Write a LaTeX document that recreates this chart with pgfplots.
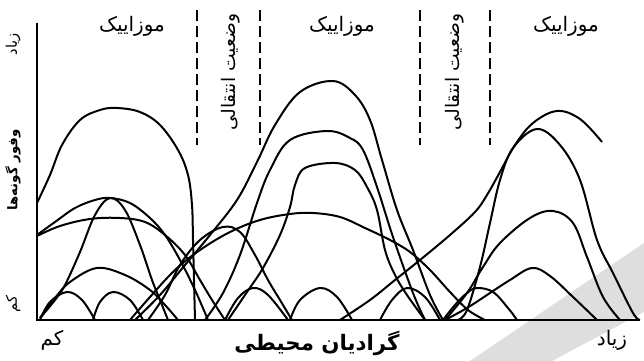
\documentclass[border=0pt]{standalone}
\usepackage{fontspec}
\usepackage{pgfplots}
\pgfplotsset{compat=1.18}
\TeXXeTstate=1
\newfontfamily\fa[Script=Arabic]{DejaVu Sans}
\pgfplotsset{sp/.style={black, solid, line width=1.5pt, smooth, tension=0.6, mark=none}}

\begin{document}
\begin{tikzpicture}
\begin{axis}[
    hide axis, scale only axis, clip=false,
    width=483pt, height=270.75pt,
    xmin=0, xmax=644, ymin=-41, ymax=320
]
% watermark band
\fill[black!13] (axis cs:470,-41) -- (axis cs:644,77) -- (axis cs:644,8) -- (axis cs:552,-41) -- cycle;

% axes
\draw[line width=1.5pt] (axis cs:37,297) -- (axis cs:37,0) -- (axis cs:640,0);

% dashed borders of the transition zones
\pgfplotsinvokeforeach{197,260,420,490}{
  \draw[line width=1.6pt, dash pattern=on 8pt off 4pt] (axis cs:#1,310) -- (axis cs:#1,175);
}

% left mosaic
\addplot[sp] coordinates {(37,117)(50,145)(62,175)(80,200)(100,210)(117,212)(140,208)(160,195)(178,170)(188,145)(192,115)(193,80)(194,40)(195,0)};
\addplot[sp] coordinates {(37,85)(55,98)(75,112)(95,120)(110,122)(130,117)(150,102)(165,85)(180,60)(195,30)(208,0)};
\addplot[sp] coordinates {(40,2)(55,20)(65,35)(80,68)(95,105)(110,122)(125,110)(140,75)(152,40)(160,20)(168,0)};
\addplot[sp] coordinates {(37,84)(60,94)(90,101)(120,102)(145,98)(165,85)(185,65)(200,40)(212,20)(225,0)};
\addplot[sp] coordinates {(40,2)(55,22)(70,38)(97,52)(125,45)(150,30)(165,15)(178,0)};
\addplot[sp] coordinates {(40,0)(50,18)(67,28)(82,20)(95,0)};
\addplot[sp] coordinates {(93,0)(100,18)(113,28)(130,20)(143,0)};

% middle mosaic
\addplot[sp] coordinates {(135,0)(160,25)(185,55)(210,85)(237,120)(257,158)(275,195)(300,228)(333,239)(355,225)(370,200)(382,160)(397,110)(413,70)(430,25)(443,0)};
\addplot[sp] coordinates {(205,0)(223,27)(240,65)(257,117)(270,150)(290,180)(327,189)(350,182)(363,170)(377,133)(393,83)(413,27)(425,0)};
\addplot[sp] coordinates {(228,0)(247,28)(263,52)(280,85)(290,113)(295,135)(305,152)(335,157)(355,150)(367,133)(377,110)(385,70)(395,45)(407,25)(425,0)};
\addplot[sp] coordinates {(130,0)(150,23)(175,50)(200,70)(230,88)(260,100)(290,106)(313,107)(340,103)(365,92)(390,80)(410,68)(430,50)(450,28)(468,10)(485,0)};
\addplot[sp] coordinates {(148,0)(165,25)(180,55)(200,80)(223,93)(240,88)(255,65)(268,40)(280,20)(292,0)};
\addplot[sp] coordinates {(225,0)(238,22)(253,32)(268,25)(288,0)};
\addplot[sp] coordinates {(290,0)(300,20)(320,32)(337,23)(352,0)};
\addplot[sp] coordinates {(380,0)(392,20)(407,32)(425,23)(440,0)};

% right mosaic
\addplot[sp] coordinates {(340,0)(370,20)(395,40)(420,60)(450,85)(475,108)(487,125)(500,148)(515,175)(533,197)(557,209)(580,201)(602,178)};
\addplot[sp] coordinates {(458,0)(467,10)(480,53)(490,97)(500,140)(513,172)(537,191)(560,175)(580,140)(597,80)(613,47)(633,7)(640,0)};
\addplot[sp] coordinates {(445,0)(467,27)(483,53)(500,77)(530,102)(553,109)(573,97)(587,63)(603,23)(620,0)};
\addplot[sp] coordinates {(445,0)(467,12)(487,25)(510,40)(532,52)(550,44)(573,23)(597,0)};
\addplot[sp] coordinates {(443,0)(455,15)(467,27)(477,32)(493,28)(508,12)(517,0)};

% labels
\node[font=\fa\fontsize{15}{17}\selectfont] at (axis cs:132,294) {\beginR موزاییک\endR};
\node[font=\fa\fontsize{15}{17}\selectfont] at (axis cs:342,294) {\beginR موزاییک\endR};
\node[font=\fa\fontsize{15}{17}\selectfont] at (axis cs:566,294) {\beginR موزاییک\endR};
\node[font=\fa\fontsize{14}{16}\selectfont, rotate=90] at (axis cs:231,248) {\beginR وضعیت انتقالی\endR};
\node[font=\fa\fontsize{14}{16}\selectfont, rotate=90] at (axis cs:455,248) {\beginR وضعیت انتقالی\endR};

\node[font=\fa\fontsize{10}{12}\selectfont\bfseries, rotate=90] at (axis cs:13,150) {\beginR وفور گونه‌ها\endR};
\node[font=\fa\fontsize{11}{13}\selectfont, rotate=90] at (axis cs:13,276) {\beginR زیاد\endR};
\node[font=\fa\fontsize{11}{13}\selectfont, rotate=90] at (axis cs:13,16) {\beginR کم\endR};

\node[font=\fa\fontsize{15}{17}\selectfont] at (axis cs:52,-20) {\beginR کم\endR};
\node[font=\fa\fontsize{16}{18}\selectfont\bfseries] at (axis cs:317,-23) {\beginR گرادیان محیطی\endR};
\node[font=\fa\fontsize{15}{17}\selectfont] at (axis cs:612,-20) {\beginR زیاد\endR};

\path (axis cs:0,-41) rectangle (axis cs:644,320);
\end{axis}
\end{tikzpicture}
\end{document}
